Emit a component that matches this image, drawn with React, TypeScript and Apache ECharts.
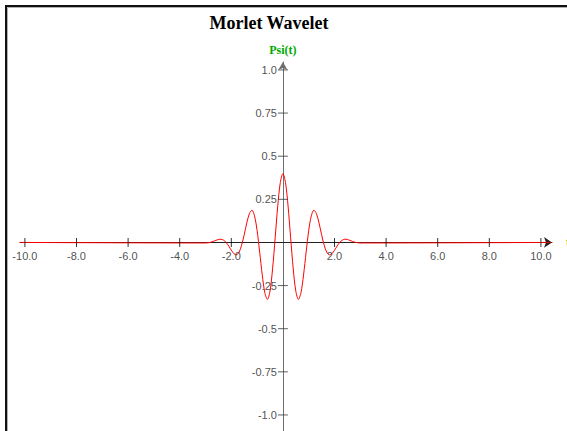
import React, { useEffect, useRef } from "react";
import * as echarts from "echarts";

// Texts
const titleText = "Morlet Wavelet";
const yAxisName = "Psi(t)";
const xAxisName = "t";

// Tick positions and their printed labels
const xTicks = [-10, -8, -6, -4, -2, 2, 4, 6, 8, 10];
const xTickLabels = ["-10.0", "-8.0", "-6.0", "-4.0", "-2.0", "2.0", "4.0", "6.0", "8.0", "10.0"];
const yTicks = [1, 0.75, 0.5, 0.25, -0.25, -0.5, -0.75, -1];
const yTickLabels = ["1.0", "0.75", "0.5", "0.25", "-0.25", "-0.5", "-0.75", "-1.0"];

// Axis extents (the axis lines run a little past the outer ticks)
const xExtent = [-10.19, 10.43];
const yExtent = [-1.093, 1.046];

// Sampled wavelet: t and Psi(t)
const tValues = [
  -10.2,
  -3.0, -2.9, -2.8, -2.7, -2.6, -2.5, -2.4, -2.3, -2.2, -2.1,
  -2.0, -1.9, -1.8, -1.7, -1.6, -1.5, -1.4, -1.3, -1.2, -1.1,
  -1.0, -0.9, -0.8, -0.7, -0.6, -0.5, -0.4, -0.3, -0.2, -0.1,
  0.0,
  0.1, 0.2, 0.3, 0.4, 0.5, 0.6, 0.7, 0.8, 0.9, 1.0,
  1.1, 1.2, 1.3, 1.4, 1.5, 1.6, 1.7, 1.8, 1.9, 2.0,
  2.1, 2.2, 2.3, 2.4, 2.5, 2.6, 2.7, 2.8, 2.9, 3.0,
  10.4,
];
const psiValues = [
  0,
  -0.003, -0.002, 0.001, 0.006, 0.012, 0.017, 0.019, 0.013, 0.0, -0.021,
  -0.045, -0.065, -0.072, -0.057, -0.016, 0.045, 0.113, 0.167, 0.187, 0.154,
  0.069, -0.056, -0.189, -0.292, -0.33, -0.282, -0.153, 0.027, 0.211, 0.348,
  0.399,
  0.348, 0.211, 0.027, -0.153, -0.282, -0.33, -0.292, -0.189, -0.056, 0.069,
  0.154, 0.187, 0.167, 0.113, 0.045, -0.016, -0.057, -0.072, -0.065, -0.045,
  -0.021, 0.0, 0.013, 0.019, 0.017, 0.012, 0.006, 0.001, -0.002, -0.003,
  0,
];

const labelFont = "'Liberation Sans', Arial, sans-serif";
const serifFont = "'Liberation Serif', 'Times New Roman', serif";

export default function App() {
  const ref = useRef<HTMLDivElement>(null);

  useEffect(() => {
    if (!ref.current) return;
    const chart = echarts.init(ref.current, null, { renderer: "svg" });

    const curve = tValues.map((t, i) => [t, psiValues[i]]);
    const tickLabelStyle = {
      show: true,
      color: "#222222",
      fontFamily: labelFont,
      fontSize: 11,
    };

    chart.setOption({
      animation: false,
      backgroundColor: "#ffffff",
      title: {
        text: titleText,
        left: 264,
        top: 9,
        textAlign: "center",
        textStyle: {
          fontFamily: serifFont,
          fontWeight: "bold",
          fontSize: 18,
          color: "#000000",
        },
      },
      graphic: [
        {
          type: "rect",
          shape: { x: 6, y: 6, width: 700, height: 600 },
          style: { fill: "none", stroke: "#111111", lineWidth: 2 },
          silent: true,
        },
        {
          type: "rect",
          shape: { x: 7.5, y: 7.5, width: 700, height: 600 },
          style: { fill: "none", stroke: "#b0b0b0", lineWidth: 1 },
          silent: true,
        },
      ],
      grid: {
        left: 20,
        right: 15,
        top: 62,
        bottom: 0,
        containLabel: false,
        outerBoundsMode: "none",
      },
      xAxis: {
        type: "value",
        min: xExtent[0],
        max: xExtent[1],
        name: xAxisName,
        nameLocation: "end",
        nameGap: 14,
        nameTextStyle: {
          color: "#00aa00",
          fontFamily: serifFont,
          fontWeight: "bold",
          fontSize: 12,
        },
        axisLine: {
          onZero: true,
          symbol: ["none", "arrow"],
          symbolSize: [8, 8],
          lineStyle: { color: "#222222", width: 1 },
        },
        axisTick: { show: false },
        splitLine: { show: false },
        axisLabel: { show: false },
      },
      yAxis: {
        type: "value",
        min: yExtent[0],
        max: yExtent[1],
        name: yAxisName,
        nameLocation: "end",
        nameGap: 6,
        nameTextStyle: {
          color: "#00aa00",
          fontFamily: serifFont,
          fontWeight: "bold",
          fontSize: 12,
        },
        axisLine: {
          onZero: true,
          symbol: ["none", "arrow"],
          symbolSize: [7, 8],
          lineStyle: { color: "#6e6e6e", width: 1 },
        },
        axisTick: { show: false },
        splitLine: { show: false },
        axisLabel: { show: false },
      },
      series: [
        {
          type: "line",
          data: curve,
          showSymbol: false,
          smooth: 0.3,
          lineStyle: { color: "#ff0000", width: 1 },
          z: 3,
          silent: true,
        },
        {
          // tick marks and labels along the horizontal axis
          type: "scatter",
          data: xTicks.map((v, i) => ({ value: [v, 0], name: xTickLabels[i] })),
          symbol: "rect",
          symbolSize: [1, 9],
          itemStyle: { color: "#000000" },
          label: {
            ...tickLabelStyle,
            position: "bottom",
            distance: 4,
            formatter: (p: any) => p.name,
          },
          z: 4,
          silent: true,
        },
        {
          // tick marks and labels along the vertical axis
          type: "scatter",
          data: yTicks.map((v, i) => ({ value: [0, v], name: yTickLabels[i] })),
          symbol: "rect",
          symbolSize: [10, 1],
          itemStyle: { color: "#3a3a3a" },
          label: {
            ...tickLabelStyle,
            position: "left",
            distance: 1,
            formatter: (p: any) => p.name,
          },
          z: 4,
          silent: true,
        },
      ],
    });

    return () => chart.dispose();
  }, []);

  return (
    <div
      ref={ref}
      style={{ position: "fixed", left: 0, top: 0, width: 567, height: 431 }}
    />
  );
}
